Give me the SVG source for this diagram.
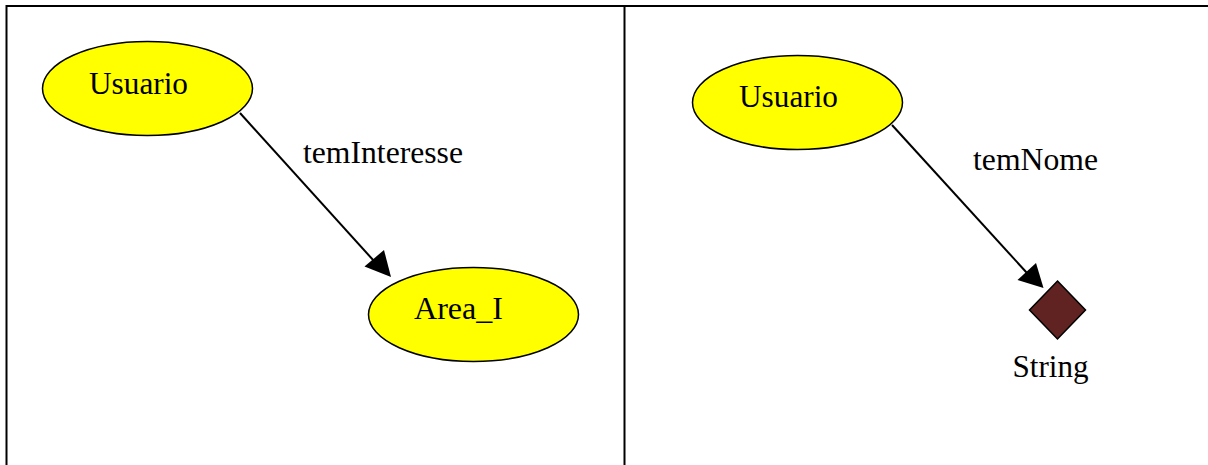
<svg xmlns="http://www.w3.org/2000/svg" width="1208" height="465" viewBox="0 0 1208 465">
<style>
.frame{stroke:#000;stroke-width:2;fill:none}
.cls{fill:#ffff00;stroke:#000;stroke-width:1.5}
.lit{fill:#612222;stroke:#000;stroke-width:1.5}
.edge{stroke:#000;stroke-width:2;fill:none}
.t{font-family:'Liberation Serif','Times New Roman','DejaVu Serif',serif;font-size:31.5px;fill:#000}
</style>
<defs>
<marker id="arr" viewBox="0 0 10 10" refX="10" refY="5" markerWidth="10" markerHeight="10" markerUnits="userSpaceOnUse" orient="auto">
<path d="M0,0 L10,5 L0,10 z" fill="#000"/>
</marker>
</defs>
<rect width="1208" height="465" fill="#fff"/>
<g id="frame">
<line class="frame" x1="6" y1="6" x2="1208" y2="6"/>
<line class="frame" x1="6.5" y1="5" x2="6.5" y2="465"/>
<line class="frame" x1="624.5" y1="5" x2="624.5" y2="465"/>
</g>
<g id="connectors">
<line class="edge" x1="240" y1="113" x2="374" y2="261"/>
<path d="M391,277 L364.5,266.5 L384,250 z" fill="#000"/>
<text class="t" x="303" y="163" textLength="160" lengthAdjust="spacingAndGlyphs" font-family="Liberation Serif, serif">temInteresse</text>
<line class="edge" x1="892" y1="125" x2="1027" y2="273"/>
<path d="M1043.5,288 L1017.5,280 L1036,263 z" fill="#000"/>
<text class="t" x="973" y="170" textLength="125" lengthAdjust="spacingAndGlyphs" font-family="Liberation Serif, serif">temNome</text>
</g>
<g id="usuario1">
<ellipse class="cls" cx="147.5" cy="88.5" rx="105" ry="47"/>
<text class="t" x="89" y="94" textLength="99" lengthAdjust="spacingAndGlyphs" font-family="Liberation Serif, serif">Usuario</text>
</g>
<g id="area_i">
<ellipse class="cls" cx="473.5" cy="314.5" rx="105" ry="47"/>
<text class="t" x="414" y="319" textLength="89" lengthAdjust="spacingAndGlyphs" font-family="Liberation Serif, serif">Area_I</text>
</g>
<g id="usuario2">
<ellipse class="cls" cx="797.5" cy="102.5" rx="105" ry="47"/>
<text class="t" x="739" y="107" textLength="99" lengthAdjust="spacingAndGlyphs" font-family="Liberation Serif, serif">Usuario</text>
</g>
<g id="string">
<path class="lit" d="M1057.5,281 L1085.5,310 L1057.5,339 L1029.5,310 z"/>
<text class="t" x="1012.5" y="377" textLength="76" lengthAdjust="spacingAndGlyphs" font-family="Liberation Serif, serif">String</text>
</g>
</svg>
